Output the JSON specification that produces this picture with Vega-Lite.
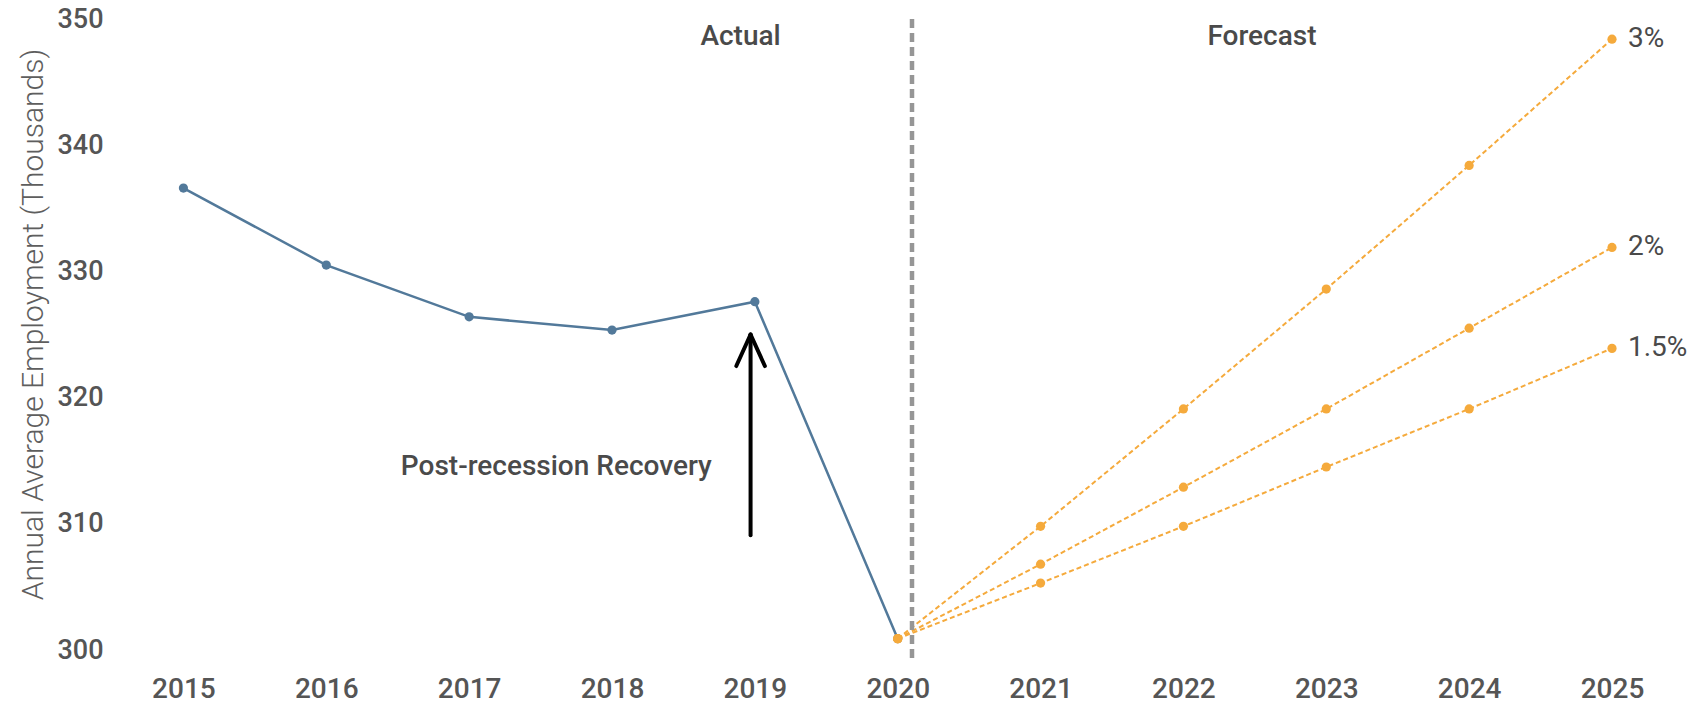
{
  "$schema": "https://vega.github.io/schema/vega-lite/v6.json",
  "width": 1500,
  "height": 631,
  "autosize": {"type": "none"},
  "padding": {"left": 112, "top": 19, "right": 82, "bottom": 53},
  "background": "white",
  "config": {
    "view": {"stroke": null},
    "axis": {"grid": false, "domain": false, "ticks": false, "labelFont": "Roboto", "titleFont": "Roboto"},
    "text": {"font": "Roboto"}
  },
  "datasets": {
    "actual": [
      {"year": 2015, "value": 336.6},
      {"year": 2016, "value": 330.5},
      {"year": 2017, "value": 326.4},
      {"year": 2018, "value": 325.35},
      {"year": 2019, "value": 327.6},
      {"year": 2020, "value": 300.9}
    ],
    "forecast": [
      {"series": "3%", "year": 2020, "value": 300.9},
      {"series": "3%", "year": 2021, "value": 309.8},
      {"series": "3%", "year": 2022, "value": 319.1},
      {"series": "3%", "year": 2023, "value": 328.6},
      {"series": "3%", "year": 2024, "value": 338.4},
      {"series": "3%", "year": 2025, "value": 348.4},
      {"series": "2%", "year": 2020, "value": 300.9},
      {"series": "2%", "year": 2021, "value": 306.8},
      {"series": "2%", "year": 2022, "value": 312.9},
      {"series": "2%", "year": 2023, "value": 319.1},
      {"series": "2%", "year": 2024, "value": 325.5},
      {"series": "2%", "year": 2025, "value": 331.9},
      {"series": "1.5%", "year": 2020, "value": 300.9},
      {"series": "1.5%", "year": 2021, "value": 305.3},
      {"series": "1.5%", "year": 2022, "value": 309.8},
      {"series": "1.5%", "year": 2023, "value": 314.5},
      {"series": "1.5%", "year": 2024, "value": 319.1},
      {"series": "1.5%", "year": 2025, "value": 323.9}
    ],
    "divider": [{"year": 2020.1, "top": 350, "bottom": 299.2}],
    "headers": [
      {"label": "Actual", "year": 2018.9, "value": 348.6},
      {"label": "Forecast", "year": 2022.55, "value": 348.6}
    ],
    "note": [{"label": "Post-recession Recovery", "year": 2017.61, "value": 314.5}],
    "arrow": [
      {"x": 2018.97, "y": 309.1, "x2": 2018.97, "y2": 325.0},
      {"x": 2018.87, "y": 322.5, "x2": 2018.97, "y2": 325.0},
      {"x": 2019.07, "y": 322.5, "x2": 2018.97, "y2": 325.0}
    ]
  },
  "layer": [
    {
      "data": {"name": "actual"},
      "mark": {"type": "line", "color": "#52799a", "strokeWidth": 2.5},
      "encoding": {
        "x": {
          "field": "year", "type": "quantitative",
          "scale": {"domain": [2014.5, 2025], "nice": false, "zero": false},
          "axis": {
            "values": [2015, 2016, 2017, 2018, 2019, 2020, 2021, 2022, 2023, 2024, 2025],
            "format": "d", "title": null,
            "labelFontSize": 28, "labelFontWeight": 500, "labelColor": "#555555",
            "labelPadding": 25, "labelFlush": false, "labelOverlap": false
          }
        },
        "y": {
          "field": "value", "type": "quantitative",
          "scale": {"domain": [300, 350], "nice": false, "zero": false},
          "axis": {
            "values": [300, 310, 320, 330, 340, 350],
            "title": "Annual Average Employment (Thousands)",
            "titleFontSize": 30, "titleFontWeight": 300, "titleColor": "#5e5e5e",
            "titlePadding": 8, "titleY": 305,
            "labelFontSize": 27, "labelFontWeight": 500, "labelColor": "#555555",
            "labelPadding": 9
          }
        }
      }
    },
    {
      "data": {"name": "actual"},
      "mark": {"type": "point", "filled": true, "opacity": 1, "color": "#52799a", "size": 85},
      "encoding": {
        "x": {"field": "year", "type": "quantitative"},
        "y": {"field": "value", "type": "quantitative"}
      }
    },
    {
      "data": {"name": "forecast"},
      "mark": {"type": "line", "color": "#f5aa3c", "strokeWidth": 2, "strokeDash": [5, 3]},
      "encoding": {
        "x": {"field": "year", "type": "quantitative"},
        "y": {"field": "value", "type": "quantitative"},
        "detail": {"field": "series", "type": "nominal"}
      }
    },
    {
      "data": {"name": "divider"},
      "mark": {"type": "rule", "color": "#969696", "strokeWidth": 4.5, "strokeDash": [9, 5]},
      "encoding": {
        "x": {"field": "year", "type": "quantitative"},
        "y": {"field": "top", "type": "quantitative"},
        "y2": {"field": "bottom"}
      }
    },
    {
      "data": {"name": "forecast"},
      "mark": {"type": "point", "filled": true, "opacity": 1, "color": "#f5aa3c", "size": 85},
      "encoding": {
        "x": {"field": "year", "type": "quantitative"},
        "y": {"field": "value", "type": "quantitative"}
      }
    },
    {
      "data": {"name": "forecast"},
      "transform": [{"filter": "datum.year == 2025"}],
      "mark": {"type": "text", "align": "left", "baseline": "middle", "dx": 16, "fontSize": 28, "fontWeight": 400, "color": "#4a4a4a"},
      "encoding": {
        "x": {"field": "year", "type": "quantitative"},
        "y": {"field": "value", "type": "quantitative"},
        "text": {"field": "series"}
      }
    },
    {
      "data": {"name": "headers"},
      "mark": {"type": "text", "align": "center", "baseline": "middle", "fontSize": 28, "fontWeight": 500, "color": "#4a4a4a"},
      "encoding": {
        "x": {"field": "year", "type": "quantitative"},
        "y": {"field": "value", "type": "quantitative"},
        "text": {"field": "label"}
      }
    },
    {
      "data": {"name": "note"},
      "mark": {"type": "text", "align": "center", "baseline": "middle", "fontSize": 28, "fontWeight": 500, "color": "#4a4a4a"},
      "encoding": {
        "x": {"field": "year", "type": "quantitative"},
        "y": {"field": "value", "type": "quantitative"},
        "text": {"field": "label"}
      }
    },
    {
      "data": {"name": "arrow"},
      "mark": {"type": "rule", "color": "#000000", "strokeWidth": 4, "strokeCap": "round"},
      "encoding": {
        "x": {"field": "x", "type": "quantitative"},
        "y": {"field": "y", "type": "quantitative"},
        "x2": {"field": "x2"},
        "y2": {"field": "y2"}
      }
    }
  ]
}
